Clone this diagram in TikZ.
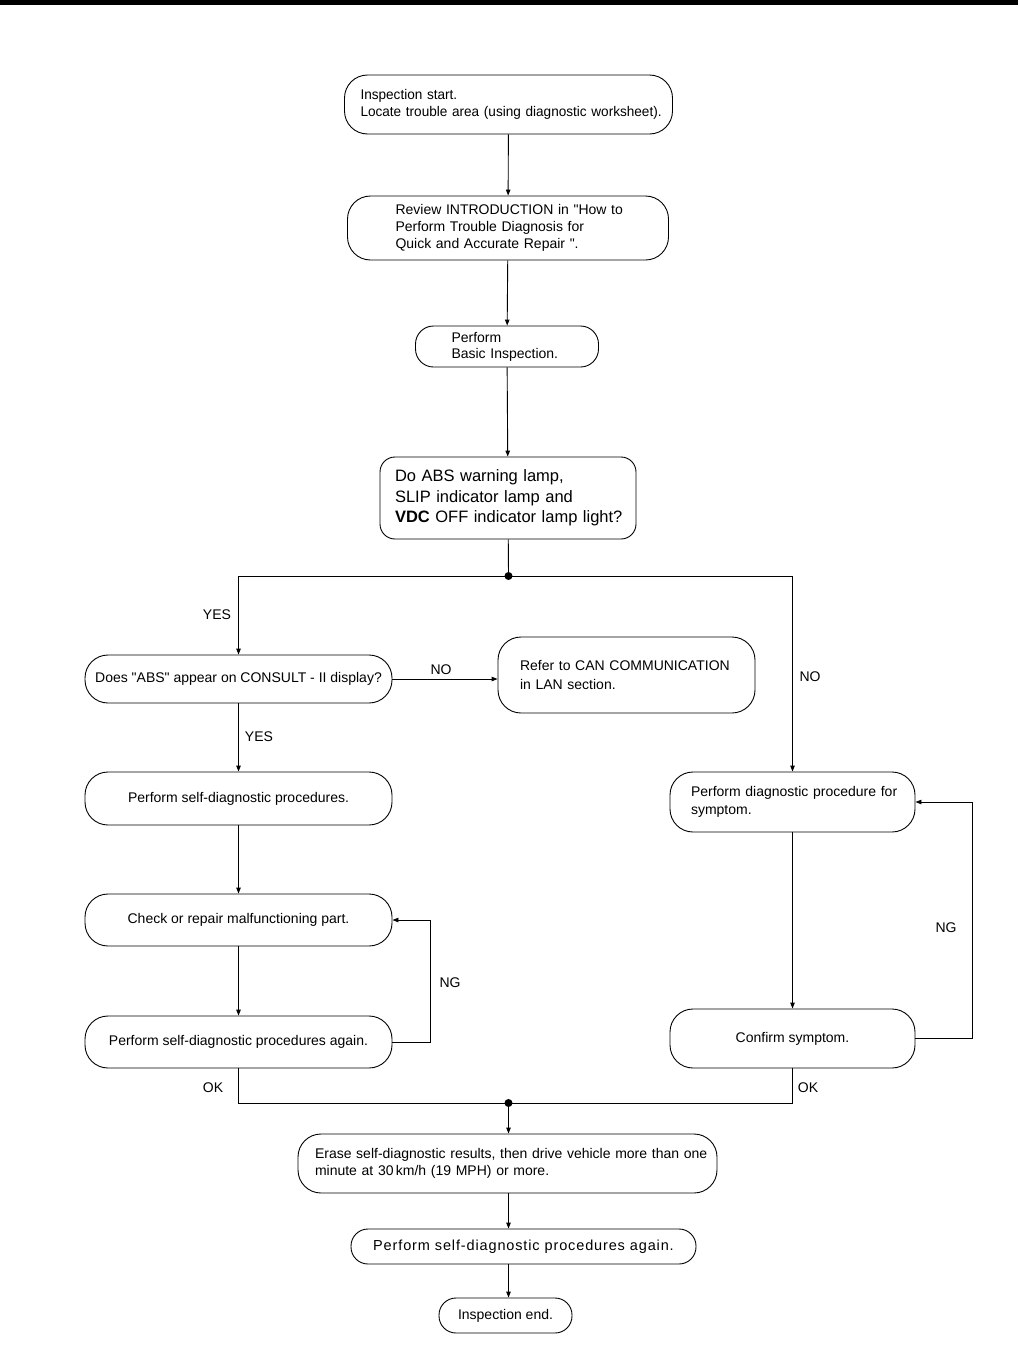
\documentclass[tikz,border=0pt]{standalone}
\usepackage{fontspec}
\setmainfont{Liberation Sans}
\usetikzlibrary{arrows.meta,calc}
\begin{document}
\begin{tikzpicture}[x=1pt,y=-1pt,
 box/.style={draw, line width=0.9pt, inner ysep=0pt, rounded corners=23pt, font=\fontsize{14}{17}\selectfont},
 lbox/.style={box, align=left},
 cbox/.style={box, align=center, inner xsep=0pt},
 line/.style={line width=0.9pt},
 arr/.style={line, -{Triangle[length=6pt,width=4.5pt]}},
 lab/.style={font=\fontsize{14}{17}\selectfont, inner sep=0pt},
 dot/.style={circle, fill, inner sep=0pt, minimum size=8pt}]
\useasboundingbox (0,0) rectangle (1018,1360);
\fill (0,0) rectangle (1018,5);

% main column
\node[lbox, text width=296pt, inner xsep=16pt, minimum height=59pt, font=\fontsize{14}{17}\selectfont\addfontfeatures{FakeStretch=0.97}] (start) at (508.5,104.5)
 {\mbox{Inspection start.}\\\mbox{Locate trouble area (using diagnostic worksheet).}};
\node[lbox, text width=225pt, inner xsep=48pt, minimum height=64pt] (review) at (508,228)
 {\mbox{Review INTRODUCTION in \textquotedbl How to}\\\mbox{Perform Trouble Diagnosis for}\\\mbox{Quick and Accurate Repair \textquotedbl.}};
\node[lbox, text width=111pt, inner xsep=36pt, minimum height=41pt, rounded corners=18pt, font=\fontsize{14}{16}\selectfont] (basic) at (507,346.5)
 {\mbox{Perform}\\\mbox{Basic Inspection.}};
\node[lbox, text width=226pt, inner xsep=15pt, minimum height=82pt, rounded corners=15pt, font=\fontsize{16.5}{20.5}\selectfont] (doabs) at (508,498)
 {\mbox{Do ABS warning lamp,}\\\mbox{SLIP indicator lamp and}\\\mbox{\textbf{VDC} OFF indicator lamp light?}};

% left column
\node[cbox, minimum width=307pt, minimum height=48pt] (does) at (238.5,679)
 {Does \textquotedbl ABS\textquotedbl\ appear on CONSULT - II display?};
\node[lbox, text width=213pt, inner xsep=22pt, minimum height=76pt, font=\fontsize{14}{19}\selectfont] (refer) at (626.5,675)
 {\mbox{Refer to CAN COMMUNICATION}\\\mbox{in LAN section.}};
\node[cbox, minimum width=307pt, minimum height=53pt] (self) at (238.5,798.5)
 {Perform self-diagnostic procedures.};
\node[cbox, minimum width=307pt, minimum height=52pt] (check) at (238.5,920)
 {Check or repair malfunctioning part.};
\node[cbox, minimum width=307pt, minimum height=52pt] (again) at (238.5,1042)
 {Perform self-diagnostic procedures again.};

% right column
\node[lbox, text width=203pt, inner xsep=21pt, minimum height=60pt, font=\fontsize{14}{18}\selectfont] (diag) at (792.5,802)
 {\mbox{Perform diagnostic procedure for}\\\mbox{symptom.}};
\node[cbox, minimum width=245pt, minimum height=59pt] (confirm) at (792.5,1038.5)
 {Confirm symptom.};

% bottom
\node[lbox, text width=385pt, inner xsep=17pt, minimum height=59pt] (erase) at (507.5,1163.5)
 {\mbox{Erase self-diagnostic results, then drive vehicle more than one}\\\mbox{minute at 30\,km/h (19 MPH) or more.}};
\node[cbox, minimum width=345pt, minimum height=35pt, rounded corners=17pt, font=\fontsize{14.5}{17}\selectfont\addfontfeatures{LetterSpace=6}] (again2) at (523.5,1246.5)
 {Perform self-diagnostic procedures again.};
\node[cbox, minimum width=133pt, minimum height=35pt, rounded corners=17pt] (end) at (505.5,1315.5)
 {Inspection end.};

% connectors
\coordinate (j1) at (508.5,576);
\coordinate (j2) at (508.5,1103);
\draw[arr] (start) -- (review);
\draw[arr] (review) -- (basic);
\draw[arr] (basic) -- (doabs);
\draw[line] (doabs) -- (j1);
\draw[arr] (j1) -| (does.north);
\draw[arr] (j1) -| (diag.north);
\node[dot] (d1) at (j1) {};
\draw[arr] (does.east) -- (does.east -| refer.west);
\draw[arr] (does) -- (self);
\draw[arr] (self) -- (check);
\draw[arr] (check) -- (again);
\draw[arr] (again.east) -- ++(38,0) |- (check.east);
\draw[arr] (diag) -- (confirm);
\draw[arr] (confirm.east) -- ++(57,0) |- (diag.east);
\draw[line] (again.south) |- (j2);
\draw[line] (confirm.south) |- (j2);
\node[dot] (d2) at (j2) {};
\draw[arr] (j2) -- (erase.north -| j2);
\draw[arr] (erase.south -| j2) -- (again2.north -| j2);
\draw[arr] (again2.south -| j2) -- (end.north -| j2);

% labels
\node[lab] (yes1) at (217,615) {YES};
\node[lab] (no1) at (441,670) {NO};
\node[lab] (no2) at (810,677) {NO};
\node[lab] (yes2) at (259,737) {YES};
\node[lab] (ng1) at (450,983) {NG};
\node[lab] (ng2) at (946,928) {NG};
\node[lab] (ok1) at (213,1088) {OK};
\node[lab] (ok2) at (808,1088) {OK};
\end{tikzpicture}
\end{document}
